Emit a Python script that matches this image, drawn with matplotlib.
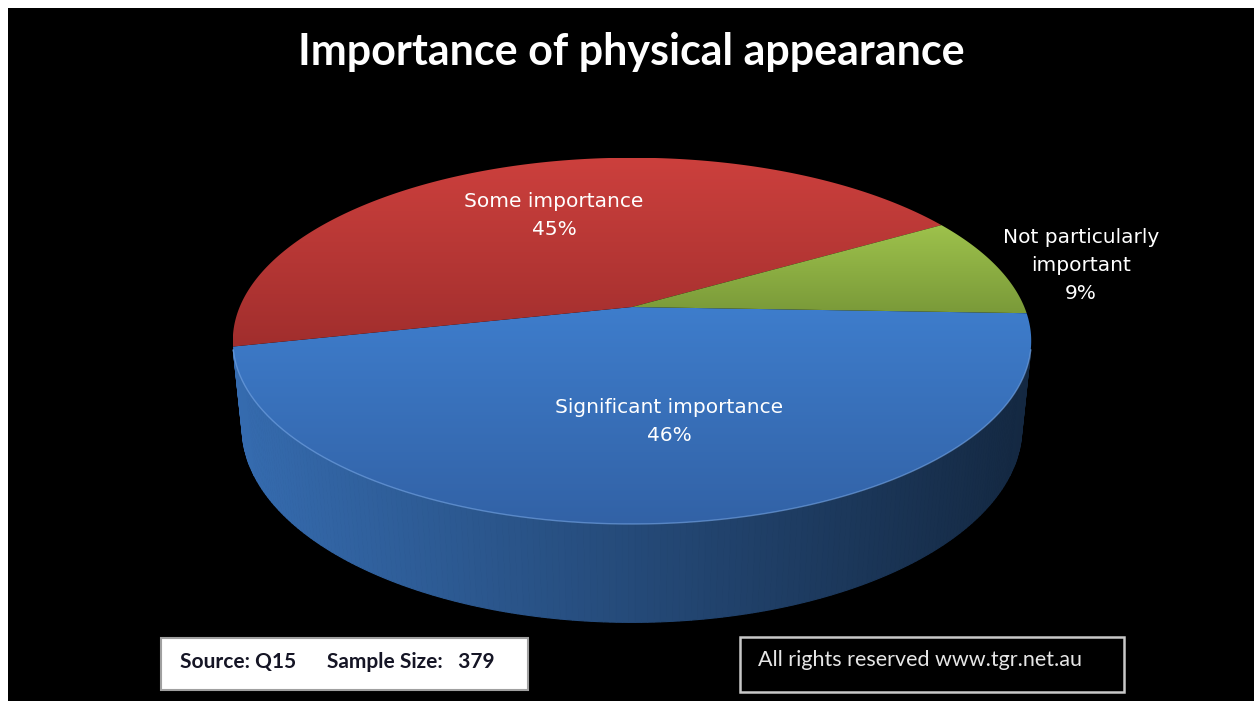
import numpy as np
import matplotlib.pyplot as plt
from matplotlib.patches import Polygon, Rectangle
from matplotlib.colors import to_rgb, LinearSegmentedColormap

# data
categories = ["Significant importance", "Some importance", "Not particularly\nimportant"]
shares = [46, 45, 9]
top_colors = ["#3e7dcc", "#cc403d", "#9ec24c"]
low_colors = ["#3262a6", "#a12e2d", "#7a9a39"]
title = "Importance of physical appearance"
source_note = "Source: Q15      Sample Size:   379"
rights_note = "All rights reserved www.tgr.net.au"

# view of the 3d pie (camera elevation, distance, focal length, depth)
ELEV = np.radians(26.8)
DIST = 4.83
FOCAL = 1895
DEPTH = 0.25
CX, CY = 632, 307
START = -2.0
W, H = 1254, 701


def project(x, y, z):
    c, s = np.cos(ELEV), np.sin(ELEV)
    d = y * c - z * s + DIST
    return CX + FOCAL * x / d, CY - FOCAL * (y * s + z * c) / d


fig = plt.figure(figsize=(W / 100, H / 100), dpi=100, facecolor="white")
ax = fig.add_axes([0, 0, 1, 1])
ax.set_xlim(0, W)
ax.set_ylim(H, 0)
ax.axis("off")
ax.add_patch(Rectangle((8, 8), W, H, facecolor="black", edgecolor="none", zorder=0))

# wedge boundaries, clockwise from START
cum = np.concatenate([[0], np.cumsum(shares)]) / np.sum(shares)
bounds = START - 360 * cum

# side wall: only the part facing the camera
vis_lim = np.degrees(np.arcsin(-1 / (DIST * np.cos(ELEV))))
vis_a, vis_b = -180 - vis_lim, vis_lim
for i in range(len(shares)):
    a1, a2 = bounds[i + 1], bounds[i]
    lo, hi = max(a1, vis_a), min(a2, vis_b)
    if lo >= hi:
        continue
    ts = np.radians(np.linspace(lo, hi, 200))
    xt, yt = project(np.cos(ts), np.sin(ts), 0)
    xb, yb = project(np.cos(ts), np.sin(ts), -DEPTH)
    base = np.array(to_rgb(top_colors[i]))
    xmin, xmax = xt.min(), xt.max()
    for j in range(len(ts) - 1):
        f = 0.86 - 0.54 * (xt[j] - xmin) / (xmax - xmin)
        col = base * f
        quad = [(xt[j], yt[j]), (xt[j + 1], yt[j + 1]), (xb[j + 1], yb[j + 1]), (xb[j], yb[j])]
        ax.add_patch(Polygon(quad, closed=True, facecolor=col, edgecolor=col, lw=0.8, zorder=2))
    ax.plot(xt, yt, color="#78a8e8", lw=1.0, alpha=0.6, zorder=4)

# top faces with a vertical gradient
for i in range(len(shares)):
    a1, a2 = bounds[i + 1], bounds[i]
    ts = np.radians(np.linspace(a2, a1, 200))
    xr, yr = project(np.cos(ts), np.sin(ts), 0)
    pts = np.vstack([[CX, CY], np.column_stack([xr, yr])])
    poly = Polygon(pts, closed=True, facecolor="none", edgecolor="none", zorder=3)
    ax.add_patch(poly)
    y0, y1 = pts[:, 1].min(), pts[:, 1].max()
    x0, x1 = pts[:, 0].min(), pts[:, 0].max()
    cmap = LinearSegmentedColormap.from_list("g%d" % i, [top_colors[i], low_colors[i]])
    grad = np.linspace(0, 1, 256).reshape(-1, 1)
    im = ax.imshow(grad, cmap=cmap, extent=(x0, x1, y1, y0), aspect="auto",
                   interpolation="bilinear", zorder=3)
    im.set_clip_path(poly)

ax.set_xlim(0, W)
ax.set_ylim(H, 0)

# data labels
label_r = [0.58, 0.6, 1.22]
label_dx = [14, 0, 9]
label_dy = [0, -2, 9]
for i in range(len(shares)):
    mid = np.radians((bounds[i] + bounds[i + 1]) / 2)
    lx, ly = project(label_r[i] * np.cos(mid), label_r[i] * np.sin(mid), 0)
    ax.text(lx + label_dx[i], ly + label_dy[i], "%s\n%d%%" % (categories[i], shares[i]),
            color="white", ha="center", va="center", fontsize=14.5, family="DejaVu Sans",
            linespacing=1.6, zorder=6)

ax.text(631, 52, title, color="white", fontsize=31, fontweight="bold", family="Lato",
        ha="center", va="center", zorder=6)

# footer boxes
ax.add_patch(Rectangle((161, 638), 367, 52, facecolor="white", edgecolor="#a0a0a0", lw=1.5, zorder=5))
ax.text(180, 662, source_note, color="#151525", fontsize=15, fontweight="bold", family="Lato",
        ha="left", va="center", zorder=6)
ax.add_patch(Rectangle((740, 637), 384, 55, facecolor="black", edgecolor="#c8c8c8", lw=1.8, zorder=5))
ax.text(758, 660, rights_note, color="#e6e6e6", fontsize=15.5, family="Lato",
        ha="left", va="center", zorder=6)

fig.savefig("out.png", dpi=100, facecolor="white")
